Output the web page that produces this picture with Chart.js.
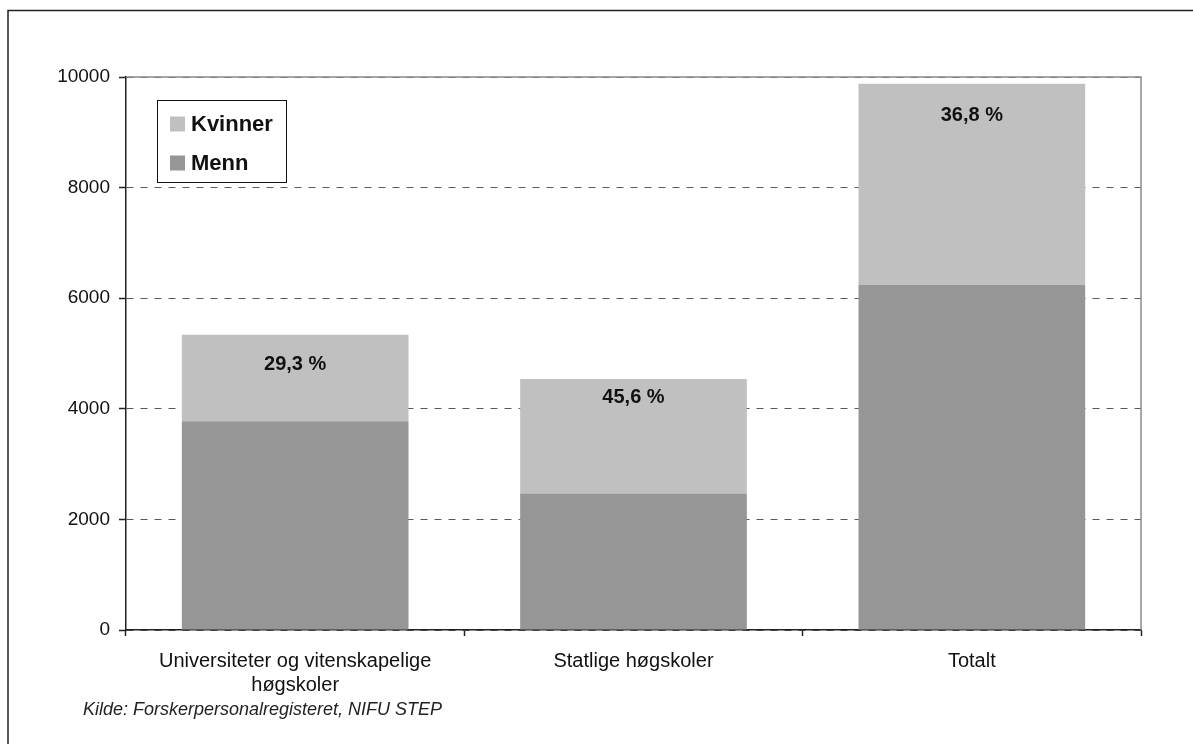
<!DOCTYPE html>
<html>
<head>
<meta charset="utf-8">
<script src="https://cdn.jsdelivr.net/npm/chart.js@4/dist/chart.umd.min.js"></script>
<style>
  html, body { margin: 0; padding: 0; background: #fff; }
  #wrap { position: relative; width: 1193px; height: 744px; }
</style>
</head>
<body>
<div id="wrap"><canvas id="c" width="1193" height="744"></canvas></div>
<script>
// Forskerpersonale etter kjønn og lærestedstype
const categories = [["Universiteter og vitenskapelige", "høgskoler"], "Statlige høgskoler", "Totalt"];
const menn = [3775, 2470, 6245];
const kvinner = [1565, 2070, 3635];
const yTicks = [0, 2000, 4000, 6000, 8000, 10000];
const sourceNote = "Kilde: Forskerpersonalregisteret, NIFU STEP";

const FONT = "'Liberation Sans', Arial, sans-serif";

// Percentage share of women, written in Norwegian format ("29,3 %")
function womenShare(i) {
  const p = kvinner[i] / (kvinner[i] + menn[i]) * 100;
  return p.toFixed(1).replace('.', ',') + ' %';
}

const framePlugin = {
  id: 'frame',
  beforeDraw(chart) {
    const ctx = chart.ctx;
    ctx.save();
    ctx.fillStyle = '#fff';
    ctx.fillRect(0, 0, chart.width, chart.height);
    ctx.strokeStyle = '#222';
    ctx.lineWidth = 1.5;
    ctx.beginPath();
    ctx.moveTo(8, chart.height);
    ctx.lineTo(8, 10.5);
    ctx.lineTo(chart.width, 10.5);
    ctx.stroke();
    ctx.restore();
  },
  afterDraw(chart) {
    const ctx = chart.ctx;
    const a = chart.chartArea;
    ctx.save();
    // plot area border (top and right)
    ctx.strokeStyle = '#8a8a8a';
    ctx.lineWidth = 1.5;
    ctx.beginPath();
    ctx.moveTo(a.left, a.top);
    ctx.lineTo(a.right, a.top);
    ctx.lineTo(a.right, a.bottom);
    ctx.stroke();

    // share labels inside the top (Kvinner) segment
    const offsets = chart.options.plugins.frame.labelOffsets;
    const top = chart.getDatasetMeta(1);
    ctx.fillStyle = '#111';
    ctx.font = "bold 20px " + FONT;
    ctx.textAlign = 'center';
    ctx.textBaseline = 'middle';
    top.data.forEach((bar, i) => {
      ctx.fillText(womenShare(i), bar.x, bar.y + offsets[i]);
    });

    // legend box, top segment listed first
    const lg = { x: 157, y: 100, w: 129, h: 82 };
    ctx.strokeStyle = '#111';
    ctx.lineWidth = 1;
    ctx.strokeRect(lg.x + 0.5, lg.y + 0.5, lg.w, lg.h);
    ctx.font = "bold 22px " + FONT;
    ctx.textAlign = 'left';
    const ds = chart.data.datasets.slice().reverse();
    ds.forEach((d, j) => {
      const cy = 124 + j * 39;
      ctx.fillStyle = d.backgroundColor;
      ctx.fillRect(170, cy - 7.5, 15, 15);
      ctx.fillStyle = '#111';
      ctx.fillText(d.label, 191, cy + 1);
    });

    // source note
    ctx.font = "italic 18px " + FONT;
    ctx.fillStyle = '#222';
    ctx.textBaseline = 'alphabetic';
    ctx.fillText(sourceNote, 83, 715);
    ctx.restore();
  }
};

new Chart(document.getElementById('c'), {
  type: 'bar',
  data: {
    labels: categories,
    datasets: [
      { label: 'Menn', data: menn, backgroundColor: '#969696', stack: 's' },
      { label: 'Kvinner', data: kvinner, backgroundColor: '#c0c0c0', stack: 's' }
    ]
  },
  options: {
    responsive: false,
    animation: false,
    devicePixelRatio: 1,
    layout: { padding: { left: 0, top: 77, right: 52, bottom: 0 } },
    datasets: { bar: { categoryPercentage: 1, barPercentage: 0.67, borderWidth: 0 } },
    plugins: {
      legend: { display: false },
      tooltip: { enabled: false },
      frame: { labelOffsets: [30, 19, 32] }
    },
    scales: {
      x: {
        stacked: true,
        offset: true,
        afterFit(s) { s.height = 114; },
        grid: { display: true, drawOnChartArea: false, drawTicks: true, tickLength: 6, tickColor: '#222', tickWidth: 1.5, offset: true },
        border: { display: true, color: '#222', width: 1.5 },
        ticks: { font: { family: FONT, size: 20 }, color: '#111', padding: 13, maxRotation: 0, autoSkip: false }
      },
      y: {
        stacked: true,
        min: 0,
        max: 10000,
        afterFit(s) { s.width = 126; },
        afterBuildTicks(s) { s.ticks = yTicks.map(v => ({ value: v })); },
        grid: { color: '#5a5a5a', lineWidth: 1, drawTicks: true, tickLength: 7, tickColor: '#222', tickWidth: 1.5, tickBorderDash: [] },
        border: { display: true, color: '#222', width: 1.5, dash: [7, 7] },
        ticks: { font: { family: FONT, size: 19 }, color: '#111', padding: 9, callback: v => String(v) }
      }
    }
  },
  plugins: [framePlugin]
});
</script>
</body>
</html>
